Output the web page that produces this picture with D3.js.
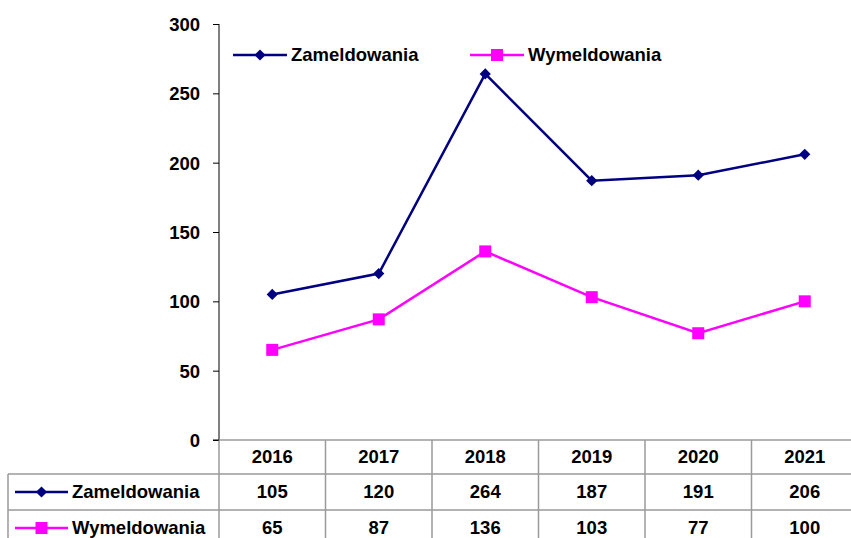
<!DOCTYPE html>
<html>
<head>
<meta charset="utf-8">
<script src="https://cdn.jsdelivr.net/npm/d3@7"></script>
<style>
  body { margin: 0; background: #fff; }
  text { font-family: "Liberation Sans", Arial, sans-serif; font-weight: bold; fill: #000; }
</style>
</head>
<body>
<svg id="chart" width="851" height="538"></svg>
<script>
// chart data
var years = ['2016', '2017', '2018', '2019', '2020', '2021'];
var zameldowania = [105, 120, 264, 187, 191, 206];
var wymeldowania = [65, 87, 136, 103, 77, 100];
var yTicks = [0, 50, 100, 150, 200, 250, 300];

var series = [
    {name: 'Zameldowania', values: zameldowania, color: '#000080', marker: 'diamond'},
    {name: 'Wymeldowania', values: wymeldowania, color: '#ff00ff', marker: 'square'}
];

var svg = d3.select('#chart');
var plotLeft = 219, colW = 106.5, plotTop = 24, plotBottom = 440;
var rowH = [34, 36, 36];
var fontSize = '18.5px';

var x = d3.scaleBand().domain(years).range([plotLeft, plotLeft + colW * years.length]);
var y = d3.scaleLinear().domain([0, 300]).range([plotBottom, plotTop]);

function drawMarker(g, type, cx, cy, color) {
    if (type === 'diamond') {
        g.append('path')
            .attr('d', d3.symbol().type(d3.symbolDiamond2).size(80)())
            .attr('transform', 'translate(' + cx + ',' + cy + ')')
            .attr('fill', color);
    } else {
        g.append('rect')
            .attr('x', cx - 6).attr('y', cy - 6)
            .attr('width', 12).attr('height', 12)
            .attr('fill', color);
    }
}

// y axis
var yAxis = d3.axisLeft(y).tickValues(yTicks).tickSize(6).tickPadding(13);
var ga = svg.append('g').attr('transform', 'translate(' + plotLeft + ',0)').call(yAxis);
ga.select('.domain').attr('stroke', '#000').attr('stroke-width', 1)
    .attr('d', 'M0,' + plotTop + 'V' + plotBottom);
ga.selectAll('.tick line').attr('stroke', '#000');
ga.selectAll('.tick text').style('font-size', fontSize).attr('dy', '0.35em');

// data table grid
var rowY = [plotBottom, plotBottom + rowH[0], plotBottom + rowH[0] + rowH[1], plotBottom + rowH[0] + rowH[1] + rowH[2]];
var grid = svg.append('g').attr('stroke', '#9a9a9a').attr('stroke-width', 1.5).attr('fill', 'none');
grid.append('line').attr('x1', plotLeft).attr('x2', 851).attr('y1', rowY[0]).attr('y2', rowY[0]);
grid.append('line').attr('x1', 8).attr('x2', 851).attr('y1', rowY[1]).attr('y2', rowY[1]);
grid.append('line').attr('x1', 8).attr('x2', 851).attr('y1', rowY[2]).attr('y2', rowY[2]);
grid.append('line').attr('x1', 8).attr('x2', 8).attr('y1', rowY[1]).attr('y2', rowY[3]);
years.forEach(function(yr) {
    var xx = x(yr);
    grid.append('line').attr('x1', xx).attr('x2', xx).attr('y1', rowY[0]).attr('y2', rowY[3]);
});
// black tick at zero drawn over the grid
svg.append('line').attr('x1', plotLeft - 6).attr('x2', plotLeft)
    .attr('y1', plotBottom).attr('y2', plotBottom).attr('stroke', '#000');

// header row
svg.selectAll('.yr').data(years).enter().append('text')
    .attr('x', function(d) { return x(d) + x.bandwidth() / 2; })
    .attr('y', (rowY[0] + rowY[1]) / 2)
    .attr('dy', '0.35em').attr('text-anchor', 'middle')
    .style('font-size', fontSize)
    .text(function(d) { return d; });

// value rows with their legend keys
series.forEach(function(s, si) {
    var cy = (rowY[si + 1] + rowY[si + 2]) / 2;
    var row = svg.append('g');
    row.selectAll('text.v').data(s.values).enter().append('text')
        .attr('x', function(d, i) { return x(years[i]) + x.bandwidth() / 2; })
        .attr('y', cy).attr('dy', '0.35em').attr('text-anchor', 'middle')
        .style('font-size', fontSize)
        .text(function(d) { return d; });
    row.append('line').attr('x1', 15).attr('x2', 68).attr('y1', cy).attr('y2', cy)
        .attr('stroke', s.color).attr('stroke-width', 2.5);
    drawMarker(row, s.marker, 41.5, cy, s.color);
    row.append('text').attr('x', 72).attr('y', cy).attr('dy', '0.35em')
        .style('font-size', fontSize).text(s.name);
});

// lines
var line = d3.line()
    .x(function(d, i) { return x(years[i]) + x.bandwidth() / 2; })
    .y(function(d) { return y(d); });

series.forEach(function(s) {
    var g = svg.append('g');
    g.append('path').datum(s.values).attr('d', line)
        .attr('fill', 'none').attr('stroke', s.color).attr('stroke-width', 2.5);
    s.values.forEach(function(v, i) {
        drawMarker(g, s.marker, x(years[i]) + x.bandwidth() / 2, y(v), s.color);
    });
});

// legend
var legendX = [233, 470];
series.forEach(function(s, i) {
    var lg = svg.append('g');
    var lx = legendX[i], ly = 55;
    lg.append('line').attr('x1', lx).attr('x2', lx + 54).attr('y1', ly).attr('y2', ly)
        .attr('stroke', s.color).attr('stroke-width', 2.5);
    drawMarker(lg, s.marker, lx + 27, ly, s.color);
    lg.append('text').attr('x', lx + 58).attr('y', ly).attr('dy', '0.35em')
        .style('font-size', fontSize).text(s.name);
});
</script>
</body>
</html>
